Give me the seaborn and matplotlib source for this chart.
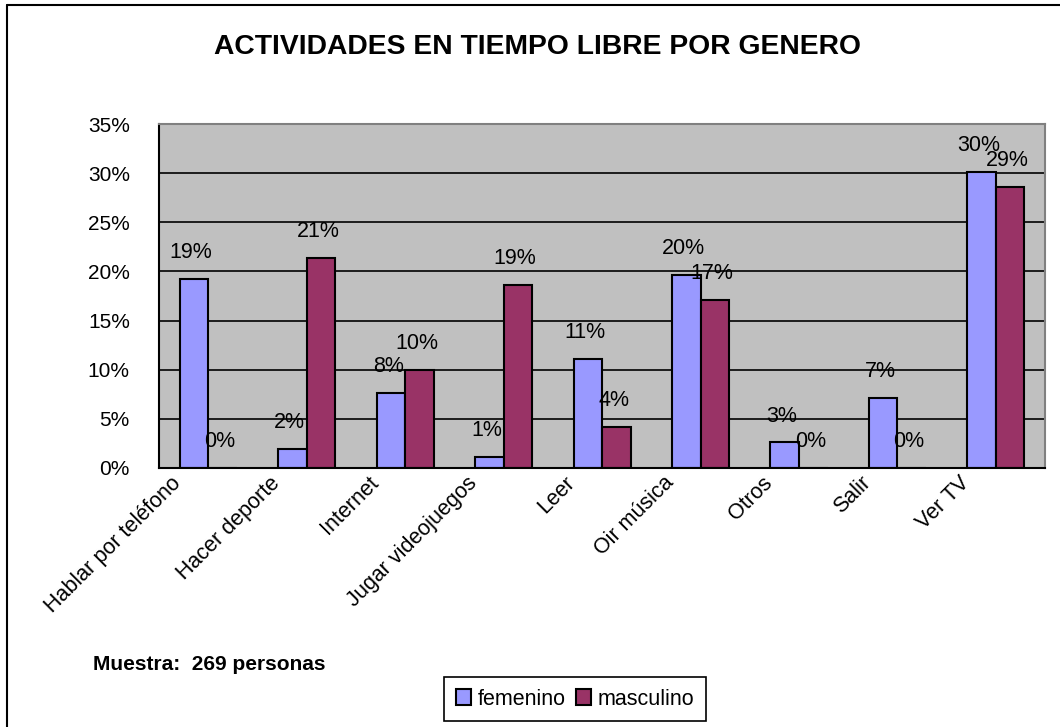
import pandas as pd
import matplotlib.pyplot as plt
import matplotlib.transforms as mtransforms
from matplotlib.lines import Line2D
import seaborn as sns

# datos
actividades = ["Hablar por teléfono", "Hacer deporte", "Internet", "Jugar videojuegos",
               "Leer", "Oir música", "Otros", "Salir", "Ver TV"]
femenino = [19.2, 1.9, 7.6, 1.1, 11.1, 19.6, 2.6, 7.1, 30.1]
masculino = [0.0, 21.4, 10.0, 18.6, 4.2, 17.1, 0.0, 0.0, 28.6]
y_ticks = [0, 5, 10, 15, 20, 25, 30, 35]

colores = {"femenino": "#9999FF", "masculino": "#993366"}

df = pd.DataFrame({
    "actividad": actividades * 2,
    "genero": ["femenino"] * len(actividades) + ["masculino"] * len(actividades),
    "valor": femenino + masculino,
})

sns.set_style("white")
plt.rcParams["font.family"] = ["Liberation Sans", "DejaVu Sans"]
plt.rcParams["text.color"] = "black"
plt.rcParams["xtick.color"] = "black"
plt.rcParams["ytick.color"] = "black"
plt.rcParams["axes.labelcolor"] = "black"

fig = plt.figure(figsize=(10.6, 7.27), dpi=100)
ax = fig.add_axes([0.150, 0.3563, 0.836, 0.4731])
ax.set_facecolor("#C0C0C0")

sns.barplot(data=df, x="actividad", y="valor", hue="genero", palette=colores,
            saturation=1, width=0.58, edgecolor="black", linewidth=1.5, ax=ax,
            legend=True)

# etiquetas de valor sobre cada barra
for cont in ax.containers:
    for barra in cont:
        v = barra.get_height()
        ax.annotate(f"{v:.0f}%", (barra.get_x() + barra.get_width() / 2, v),
                    xytext=(-2, 19), textcoords="offset points",
                    ha="center", va="center", fontsize=15.5)

ax.set_ylim(0, 35)
ax.set_xlim(-0.5, len(actividades) - 0.5)
ax.set_yticks(y_ticks)
ax.set_yticklabels([f"{t}%" for t in y_ticks], fontsize=15)
ax.yaxis.grid(True, color="black", linewidth=1.2)
ax.set_axisbelow(True)
ax.set_xlabel("")
ax.set_ylabel("")

# ticks entre categorias, etiquetas en el centro
ax.set_xticks([i - 0.5 for i in range(len(actividades) + 1)])
ax.set_xticklabels([])
ax.set_xticks(range(len(actividades)), minor=True)
ax.set_xticklabels(actividades, minor=True, rotation=45, ha="right",
                   rotation_mode="anchor", va="center", fontsize=15.5)
ax.tick_params(axis="x", which="minor", length=0, pad=0)
ax.tick_params(axis="x", which="major", direction="out", length=6, width=1.5, color="black")
ax.tick_params(axis="y", direction="out", length=7, width=1.5, color="black", pad=14)
desplaza = mtransforms.ScaledTranslation(-30 / 100, -12 / 100, fig.dpi_scale_trans)
for lab in ax.get_xticklabels(minor=True):
    lab.set_transform(lab.get_transform() + desplaza)

for lado in ["left", "bottom"]:
    ax.spines[lado].set_color("black")
    ax.spines[lado].set_linewidth(1.5)
for lado in ["top", "right"]:
    ax.spines[lado].set_color("#808080")
    ax.spines[lado].set_linewidth(1.5)

handles, labels = ax.get_legend_handles_labels()
ax.legend(handles, labels, loc="center", bbox_to_anchor=(0.5425, 0.0385),
          bbox_transform=fig.transFigure, ncol=2, frameon=True, fancybox=False,
          edgecolor="black", framealpha=1, handlelength=0.7, handleheight=0.7,
          handletextpad=0.3, columnspacing=0.5, borderpad=0.55, fontsize=15.5)
ax.get_legend().get_frame().set_linewidth(1.2)

fig.text(537 / 1060, 1 - 47 / 727, "ACTIVIDADES EN TIEMPO LIBRE POR GENERO",
         ha="center", va="center", fontsize=20.3, fontweight="bold")
fig.text(93 / 1060, 1 - 665 / 727, "Muestra:  269 personas",
         ha="left", va="center", fontsize=15, fontweight="bold")

# marco del grafico
fig.add_artist(Line2D([7 / 1060, 7 / 1060], [0, 1 - 5 / 727], color="black",
                      linewidth=1.5, transform=fig.transFigure))
fig.add_artist(Line2D([7 / 1060, 1], [1 - 5 / 727, 1 - 5 / 727], color="black",
                      linewidth=1.5, transform=fig.transFigure))

fig.savefig("out.png", dpi=100)
